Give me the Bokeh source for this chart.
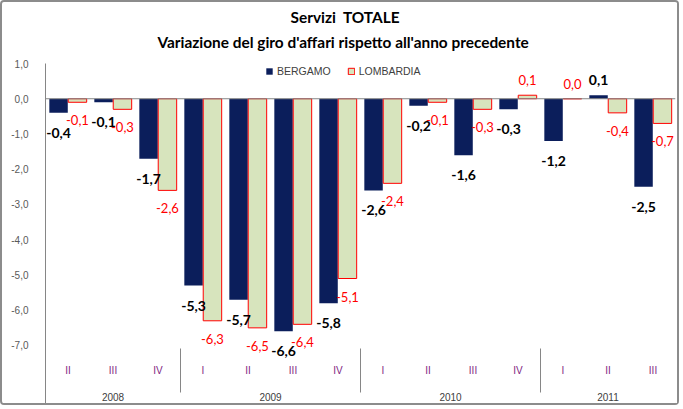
from bokeh.plotting import figure
from bokeh.models import (FactorRange, Range1d, ColumnDataSource, LabelSet, Span, Title,
                          FixedTicker, Legend, LegendItem, CustomJSTickFormatter)
from bokeh.core.properties import value
from bokeh.transform import dodge
from bokeh.embed import file_html
from bokeh.resources import INLINE

# ---- data ----
years = ["2008", "2008", "2008",
         "2009", "2009", "2009", "2009",
         "2010", "2010", "2010", "2010",
         "2011", "2011", "2011"]
quarters = ["II", "III", "IV", "I", "II", "III", "IV", "I", "II", "III", "IV", "I", "II", "III"]
bergamo = [-0.4, -0.1, -1.7, -5.3, -5.7, -6.6, -5.8, -2.6, -0.2, -1.6, -0.3, -1.2, 0.1, -2.5]
lombardia = [-0.1, -0.3, -2.6, -6.3, -6.5, -6.4, -5.1, -2.4, -0.1, -0.3, 0.1, 0.0, -0.4, -0.7]
y_ticks = [1, 0, -1, -2, -3, -4, -5, -6, -7]
series_names = ["BERGAMO", "LOMBARDIA"]
title_main = "Servizi\u00a0\u00a0TOTALE"
title_sub = "Variazione del giro d'affari rispetto all'anno precedente"

factors = list(zip(years, quarters))


def fmt(v):
    return f"{v:.1f}".replace(".", ",")


src = ColumnDataSource(dict(
    x=factors,
    berg=bergamo,
    lomb=lombardia,
    berg_txt=[fmt(v) for v in bergamo],
    lomb_txt=[fmt(v) for v in lombardia],
    berg_off=[15 if v > 0 else -20 for v in bergamo],
    lomb_off=[15 if v >= 0 else -18 for v in lombardia],
))

NAVY = "#0B1E5B"
FILL2 = "#D7E4BD"
RED = "#FF0000"
GRAY = "#868686"

# y range extends below -7 so that the category axis sits inside the frame
p = figure(width=679, height=405,
           x_range=FactorRange(factors=factors, factor_padding=0, group_padding=0,
                               subgroup_padding=0, range_padding=0),
           y_range=Range1d(-8.76, 1),
           output_backend="svg", toolbar_location=None, title=None,
           min_border_left=43, min_border_right=6, min_border_top=61, min_border_bottom=0)
p.outline_line_color = None
p.background_fill_color = "white"
p.border_fill_color = "white"
p.grid.visible = False
p.styles = {"border": "2px solid #8c8c8c", "border-radius": "4px"}

# titles
p.add_layout(Title(text=title_sub, align="left", offset=112, text_font="Lato",
                   text_font_size="15.4px", text_font_style="bold", text_color="black",
                   standoff=25), "above")
p.add_layout(Title(text=title_main, align="left", offset=245, text_font="Lato",
                   text_font_size="15.4px", text_font_style="bold", text_color="black",
                   standoff=-14), "above")

# zero line
p.add_layout(Span(location=0, dimension="width", line_color=GRAY, line_width=1))

r1 = p.vbar(x=dodge("x", -0.21, range=p.x_range), top="berg", bottom=0, width=0.41,
            source=src, fill_color=NAVY, line_color=None)
r2 = p.vbar(x=dodge("x", 0.21, range=p.x_range), top="lomb", bottom=0, width=0.41,
            source=src, fill_color=FILL2, line_color=RED, line_width=1)

# data labels
p.add_layout(LabelSet(x=dodge("x", 0.21, range=p.x_range), y="lomb", text="lomb_txt",
                      y_offset="lomb_off", source=src, text_align="center",
                      text_baseline="middle", text_font=value("Lato"), text_font_size="13px",
                      text_color=RED))
p.add_layout(LabelSet(x=dodge("x", -0.21, range=p.x_range), y="berg", text="berg_txt",
                      y_offset="berg_off", source=src, text_align="center",
                      text_baseline="middle", text_font=value("Lato"), text_font_size="14px",
                      text_font_style="bold", text_color="black"))

# y axis
yax = p.yaxis[0]
yax.ticker = FixedTicker(ticks=y_ticks)
yax.formatter = CustomJSTickFormatter(code="return tick.toFixed(1).replace('.', ',');")
yax.axis_line_color = GRAY
yax.major_tick_line_color = None
yax.minor_tick_line_color = None
yax.major_label_standoff = 11
yax.major_label_text_font = "Liberation Sans"
yax.major_label_text_font_size = "10px"
yax.major_label_text_color = "#595959"

# x axis (placed at the -7 level)
xax = p.xaxis[0]
xax.fixed_location = y_ticks[-1]
xax.axis_line_color = None
xax.major_tick_line_color = None
xax.minor_tick_line_color = None
xax.major_label_standoff = 14
xax.major_label_text_font = "Liberation Sans"
xax.major_label_text_font_size = "10px"
xax.major_label_text_color = "#7F1F7F"
xax.major_label_orientation = "horizontal"
xax.group_text_font = "Liberation Sans"
xax.group_text_font_size = "10px"
xax.group_text_font_style = "normal"
xax.group_text_color = "#404040"
xax.separator_line_color = GRAY
xax.separator_line_width = 1

legend = Legend(items=[LegendItem(label=series_names[0], renderers=[r1]),
                       LegendItem(label=series_names[1], renderers=[r2])],
                orientation="horizontal", location=(220, 330),
                glyph_width=8, glyph_height=8, label_height=12, label_standoff=4,
                spacing=16, padding=0, margin=0, border_line_color=None,
                background_fill_alpha=0, label_text_font="Liberation Sans",
                label_text_font_size="10.5px", label_text_color="#404040")
p.add_layout(legend, "center")

open("out.html", "w").write(file_html(p, INLINE))
